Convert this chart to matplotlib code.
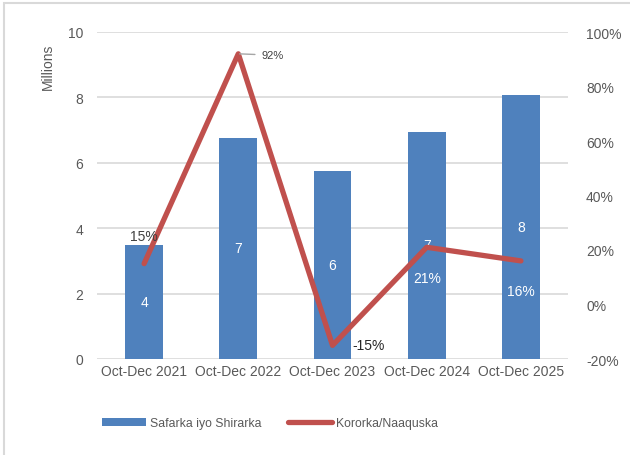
import matplotlib.pyplot as plt
from matplotlib.patches import Rectangle
import numpy as np

periods = ['Oct-Dec 2021', 'Oct-Dec 2022', 'Oct-Dec 2023', 'Oct-Dec 2024', 'Oct-Dec 2025']
travel = [3.50, 6.76, 5.75, 6.95, 8.07]      # millions
growth = [15, 92, -15, 21, 16]               # percent
bar_labels = ['4', '7', '6', '7', '8']
growth_labels = ['15%', '92%', '-15%', '21%', '16%']

plt.rcParams['font.family'] = ['Liberation Sans', 'DejaVu Sans']
txt = '#595959'
bar_col = '#4F81BD'
line_col = '#C0504D'

fig = plt.figure(figsize=(6.3, 4.56), dpi=100)
fig.patches.append(Rectangle((4 / 630, -0.1), 1.2, (456 - 4) / 456 + 0.1, transform=fig.transFigure,
                             fill=False, edgecolor='#D9D9D9', linewidth=1.5))
ax = fig.add_axes([97 / 630, 1 - 360 / 456, (568 - 97) / 630, (360 - 33) / 456])
x = np.arange(len(periods))

bars = ax.bar(x, travel, width=0.4, color=bar_col, zorder=2, label='Safarka iyo Shirarka')
ax.set_ylim(0, 10)
ax.set_xlim(-0.5, len(periods) - 0.5)
ax.set_yticks(range(0, 11, 2))
ax.grid(axis='y', color='#D9D9D9', linewidth=1.2, zorder=0)
for s in ax.spines.values():
    s.set_visible(False)
ax.tick_params(length=0, colors=txt, labelsize=10)
ax.tick_params(axis='y', pad=10)
ax.set_xticks(x)
ax.set_xticklabels(periods)
for xi, v, lab in zip(x, travel, bar_labels):
    ax.text(xi, v / 2, lab, color='white', ha='center', va='center', fontsize=10, zorder=5)

ax2 = ax.twinx()
ax2.plot(x, growth, color=line_col, linewidth=3.8, zorder=3, label='Kororka/Naaquska',
         solid_capstyle='round')
ax2.set_ylim(-20, 100)
ax2.set_yticks(range(-20, 101, 20))
ax2.set_yticklabels([f'{t}%' for t in range(-20, 101, 20)])
for s in ax2.spines.values():
    s.set_visible(False)
ax2.tick_params(length=0, colors=txt, labelsize=10, pad=13)

# growth labels
ax2.annotate(growth_labels[0], (x[0], growth[0]), xytext=(0, 20), textcoords='offset points',
             ha='center', va='center', color='#404040', fontsize=10)
ax2.annotate(growth_labels[1], (x[1], growth[1]), xytext=(25, -1), textcoords='offset points',
             ha='center', va='center', color='#404040', fontsize=8,
             arrowprops=dict(arrowstyle='-', color='#A6A6A6', lw=1, shrinkA=3, shrinkB=1))
ax2.annotate(growth_labels[2], (x[2], growth[2]), xytext=(26, 0), textcoords='offset points',
             ha='center', va='center', color='#262626', fontsize=10)
for i in (3, 4):
    ax2.annotate(growth_labels[i], (x[i], growth[i]), xytext=(0, -22), textcoords='offset points',
                 ha='center', va='center', color='white', fontsize=10)

fig.text(48 / 630, 1 - 67 / 456, 'Millions', rotation=90, ha='center', va='center',
         color=txt, fontsize=10)

h1, l1 = ax.get_legend_handles_labels()
h2, l2 = ax2.get_legend_handles_labels()
fig.legend(h1 + h2, l1 + l2, loc='center', bbox_to_anchor=(270 / 630, 1 - 424 / 456), ncol=2,
           frameon=False, fontsize=8.8, labelcolor=txt, handlelength=3.6, handleheight=0.6,
           columnspacing=2.2, handletextpad=0.3)

fig.savefig('out.png', dpi=100)
